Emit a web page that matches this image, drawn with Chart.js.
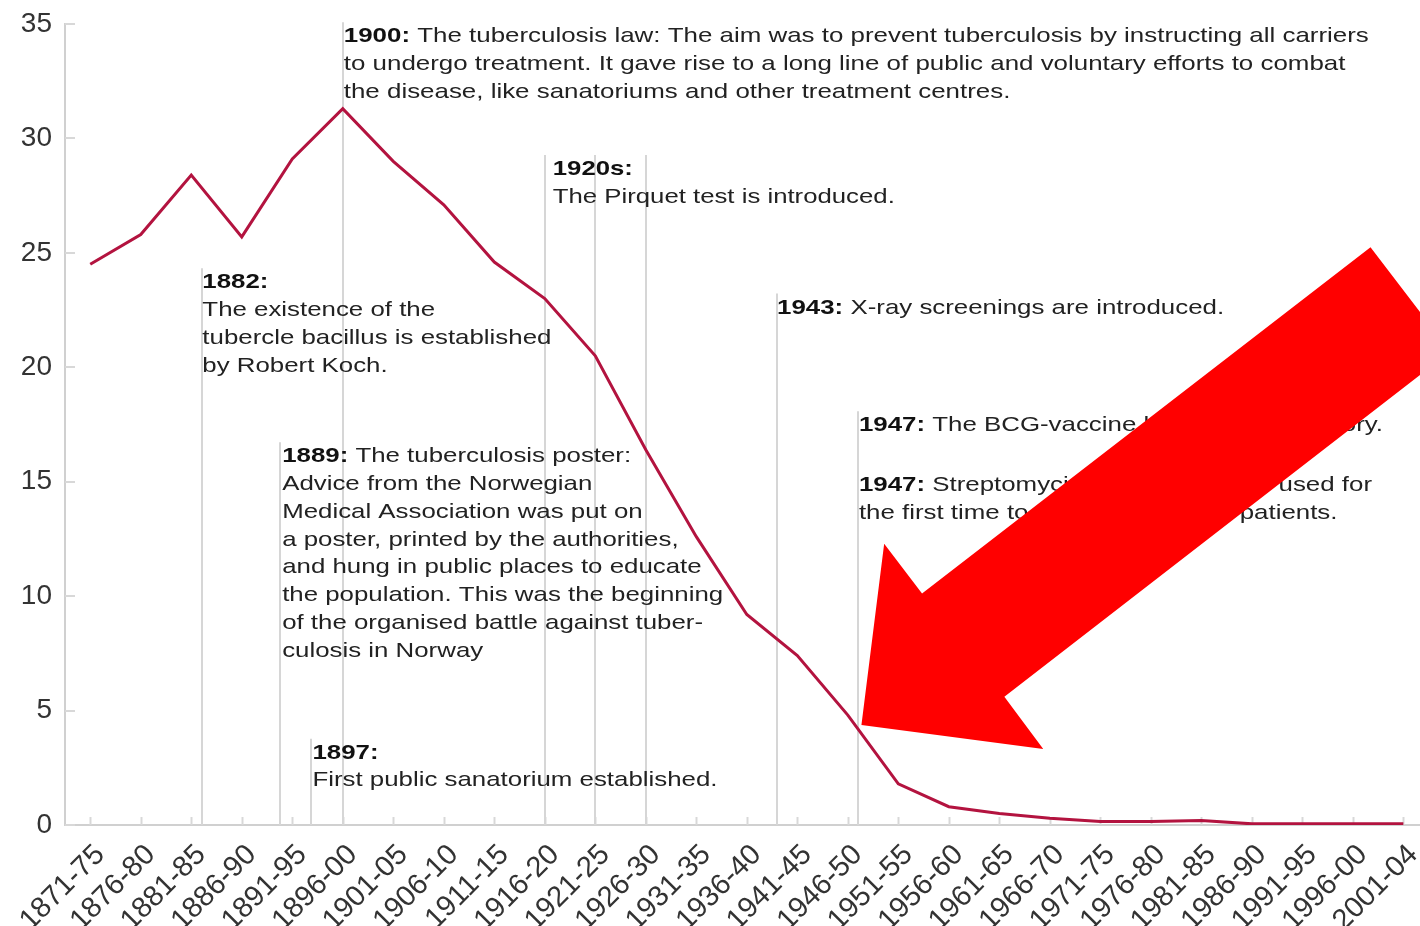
<!DOCTYPE html>
<html>
<head>
<meta charset="utf-8">
<script src="https://cdn.jsdelivr.net/npm/chart.js@4/dist/chart.umd.min.js"></script>
<style>
html,body{margin:0;padding:0;background:#fff;}
#wrap{position:relative;width:1420px;height:926px;}
</style>
</head>
<body>
<div id="wrap"><canvas id="c"></canvas></div>
<script>
// ---- data ----
const categories = ['1871-75','1876-80','1881-85','1886-90','1891-95','1896-00','1901-05','1906-10','1911-15','1916-20','1921-25','1926-30','1931-35','1936-40','1941-45','1946-50','1951-55','1956-60','1961-65','1966-70','1971-75','1976-80','1981-85','1986-90','1991-95','1996-00','2001-04'];
const deathRates = [24.5, 25.8, 28.4, 25.7, 29.1, 31.3, 29.0, 27.1, 24.6, 23.0, 20.5, 16.4, 12.6, 9.2, 7.4, 4.8, 1.8, 0.8, 0.5, 0.3, 0.15, 0.15, 0.2, 0.05, 0.05, 0.05, 0.05];
const yTicks = [0, 5, 10, 15, 20, 25, 30, 35];

// event annotations (x = position on the category axis, y = first baseline in axis units)
const notes = [
  {id:'1900', x:[5], y:34.2, dx:1, fit:[0,1025], lines:[['1900: ','The tuberculosis law: The aim was to prevent tuberculosis by instructing all carriers'],['','to undergo treatment. It gave rise to a long line of public and voluntary efforts to combat'],['','the disease, like sanatoriums and other treatment centres.']]},
  {id:'1920', x:[9,10,11], y:28.4, dx:8, fit:[1,342], lines:[['1920s:',''],['','The Pirquet test is introduced.']]},
  {id:'1882', x:[2.22], y:23.45, dx:0, fit:[2,349], lines:[['1882:',''],['','The existence of the'],['','tubercle bacillus is established'],['','by Robert Koch.']]},
  {id:'1943', x:[13.6], y:22.35, dx:0, fit:[0,447], lines:[['1943: ','X-ray screenings are introduced.']]},
  {id:'1947a', x:[15.2], y:17.2, dx:1, sxFrom:'1943', lines:[['1947: ','The BCG-vaccine becomes mandatory.']]},
  {id:'1947b', x:[], xAt:15.2, y:14.6, dx:1, sxFrom:'1943', lines:[['1947: ','Streptomycin (an antibiotic) is used for'],['','the first time to treat tuberculosis patients.']]},
  {id:'1889', x:[3.76], y:15.85, dx:2, fit:[5,441], lines:[['1889: ','The tuberculosis poster:'],['','Advice from the Norwegian'],['','Medical Association was put on'],['','a poster, printed by the authorities,'],['','and hung in public places to educate'],['','the population. This was the beginning'],['','of the organised battle against tuber-'],['','culosis in Norway']]},
  {id:'1897', x:[4.38], y:2.9, dx:1, fit:[1,405], lines:[['1897:',''],['','First public sanatorium established.']]}
];

// big red arrow, in axis units
const arrowPts = [[15.27,4.37],[15.72,12.29],[16.47,10.12],[25.35,25.24],[26.93,20.69],[18.10,5.60],[18.87,3.32]];

const FAM = "'Liberation Sans', Arial, Helvetica, sans-serif";
const AXIS_COL = '#d0d0d0';

const overlay = {
  id: 'overlay',
  beforeDatasetsDraw(chart) {
    const {ctx, chartArea, scales:{x, y}} = chart;
    ctx.save();
    // inward tick marks
    ctx.strokeStyle = '#d8d8d8';
    ctx.lineWidth = 2;
    categories.forEach((c, i) => {
      const px = Math.round(x.getPixelForValue(i)) + 0.5;
      ctx.beginPath(); ctx.moveTo(px, chartArea.bottom); ctx.lineTo(px, chartArea.bottom - 8); ctx.stroke();
    });
    yTicks.forEach(v => {
      const py = Math.round(y.getPixelForValue(v));
      ctx.beginPath(); ctx.moveTo(chartArea.left, py); ctx.lineTo(chartArea.left + 10, py); ctx.stroke();
    });
    // annotation lines + text
    const LH = 27.8, FS = 21;
    const fontN = FS + 'px ' + FAM, fontB = 'bold ' + FS + 'px ' + FAM;
    const measure = (ln) => { ctx.font = fontB; const wb = ctx.measureText(ln[0]).width; ctx.font = fontN; return wb + ctx.measureText(ln[1]).width; };
    const sxMap = {};
    notes.forEach(n => { if (n.fit) sxMap[n.id] = n.fit[1] / measure(n.lines[n.fit[0]]); });
    notes.forEach(n => {
      const base = y.getPixelForValue(n.y);
      ctx.strokeStyle = '#d6d6d6';
      ctx.lineWidth = 2;
      n.x.forEach(xv => {
        const px = Math.round(x.getPixelForValue(xv));
        ctx.beginPath(); ctx.moveTo(px, base - 20); ctx.lineTo(px, chartArea.bottom); ctx.stroke();
      });
      const xs = n.x.length ? n.x[0] : n.xAt;
      const tx = x.getPixelForValue(xs) + n.dx;
      const sx = n.sxFrom ? sxMap[n.sxFrom] : sxMap[n.id];
      n.lines.forEach((ln, k) => {
        ctx.save();
        ctx.translate(tx, base + k * LH);
        ctx.scale(sx, 1);
        ctx.textBaseline = 'alphabetic';
        ctx.textAlign = 'left';
        let off = 0;
        if (ln[0]) { ctx.font = fontB; ctx.fillStyle = '#111'; ctx.fillText(ln[0], 0, 0); off = ctx.measureText(ln[0]).width; }
        ctx.font = fontN; ctx.fillStyle = '#222';
        ctx.fillText(ln[1], off, 0);
        ctx.restore();
      });
    });
    ctx.restore();
  },
  afterDraw(chart) {
    const {ctx, scales:{x, y}} = chart;
    ctx.save();
    ctx.fillStyle = '#ff0000';
    ctx.beginPath();
    arrowPts.forEach((p, i) => {
      const px = x.getPixelForValue(p[0]), py = y.getPixelForValue(p[1]);
      if (i === 0) ctx.moveTo(px, py); else ctx.lineTo(px, py);
    });
    ctx.closePath();
    ctx.fill();
    ctx.restore();
  }
};

new Chart(document.getElementById('c'), {
  type: 'line',
  data: {
    datasets: [{
      data: categories.map((c, i) => ({x: i, y: deathRates[i]})),
      borderColor: '#b3133f',
      borderWidth: 3,
      pointRadius: 0,
      tension: 0,
      fill: false
    }]
  },
  options: {
    responsive: true,
    maintainAspectRatio: false,
    animation: false,
    layout: {padding: {top: 24, right: 1, left: 0, bottom: 0}},
    plugins: {legend: {display: false}, tooltip: {enabled: false}},
    scales: {
      x: {
        type: 'linear', min: -0.5, max: 26.31,
        grid: {display: false, drawTicks: false},
        border: {color: AXIS_COL, width: 2},
        ticks: {
          stepSize: 1, autoSkip: false, includeBounds: false,
          minRotation: 45, maxRotation: 45, padding: 13, labelOffset: 10,
          color: '#333', font: {size: 29, family: FAM},
          callback: (v) => Number.isInteger(v) && categories[v] ? categories[v] : ''
        },
        afterFit: (s) => { s.height = 101; s.paddingLeft = 0; s.paddingRight = 0; }
      },
      y: {
        min: 0, max: 35,
        grid: {display: false, drawTicks: false},
        border: {color: AXIS_COL, width: 2},
        ticks: {padding: 13, color: '#333', font: {size: 28, family: FAM}},
        afterBuildTicks: (s) => { s.ticks = yTicks.map(v => ({value: v})); },
        afterFit: (s) => { s.width = 65; s.paddingTop = 0; s.paddingBottom = 0; }
      }
    }
  },
  plugins: [overlay]
});
</script>
</body>
</html>
